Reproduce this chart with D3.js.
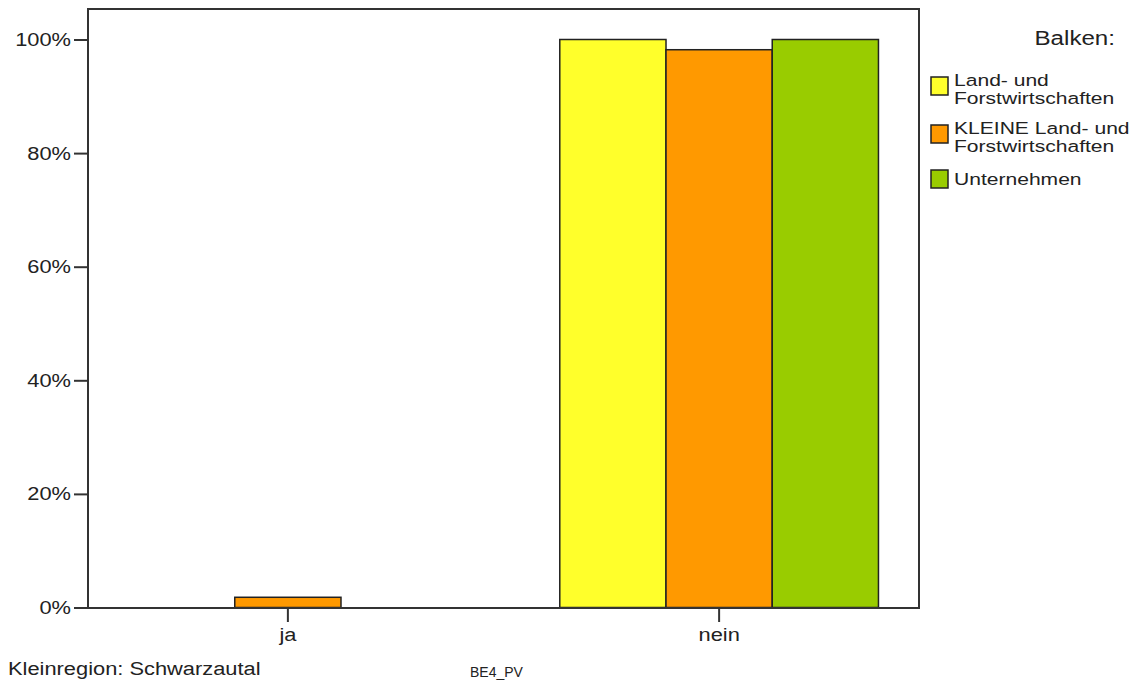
<!DOCTYPE html>
<html>
<head>
<meta charset="utf-8">
<script src="https://cdn.jsdelivr.net/npm/d3@7"></script>
<style>
  body { margin: 0; background: #fff; }
  svg text { font-family: "Liberation Sans", Arial, sans-serif; fill: #222; }
</style>
</head>
<body>
<div id="chart"></div>
<script>
var width = 1134;
var height = 686;

// data
var categories = ["ja", "nein"];
var seriesNames = ["Land- und Forstwirtschaften", "KLEINE Land- und Forstwirtschaften", "Unternehmen"];
var legendLines = [["Land- und", "Forstwirtschaften"], ["KLEINE Land- und", "Forstwirtschaften"], ["Unternehmen"]];
var seriesColors = ["#ffff2b", "#ff9900", "#99cc00"];
var landForst = [0, 100];
var kleineLandForst = [1.8, 98.2];
var unternehmen = [0, 100];
var yTicks = [0, 20, 40, 60, 80, 100];

var values = [landForst, kleineLandForst, unternehmen];

var plot = { left: 88, top: 9, right: 919, bottom: 608 };
var stretch = 1.15; // the reference font is wider than Liberation Sans

var svg = d3.select("#chart")
    .append("svg")
    .attr("width", width)
    .attr("height", height);

// writes a horizontally widened label at x,y
function label(txt, x, y, size, anchor) {
    return svg.append("text")
        .text(txt)
        .attr("transform", "translate(" + x + "," + y + ") scale(" + stretch + ",1)")
        .attr("text-anchor", anchor || "start")
        .style("font-size", size + "px");
}

var x0 = d3.scaleBand()
    .domain(categories)
    .range([plot.left, plot.right])
    .paddingInner(0.261)
    .paddingOuter(0.094);

var x1 = d3.scaleBand()
    .domain(seriesNames)
    .range([0, x0.bandwidth()]);

var y = d3.scaleLinear()
    .domain([0, 100])
    .range([plot.bottom - 0.5, 39.5]);

// bars
categories.forEach(function(cat, ci) {
    var g = svg.append("g")
        .attr("transform", "translate(" + x0(cat) + ",0)");
    g.selectAll("rect")
        .data(seriesNames.map(function(s, si) { return { name: s, value: values[si][ci], color: seriesColors[si] }; }))
        .enter()
        .append("rect")
        .attr("x", d => x1(d.name))
        .attr("y", d => y(d.value))
        .attr("width", x1.bandwidth())
        .attr("height", d => y(0) - y(d.value))
        .attr("fill", d => d.color)
        .attr("stroke", "#222")
        .attr("stroke-width", 1.5);
});

// frame
svg.append("rect")
    .attr("x", plot.left)
    .attr("y", plot.top)
    .attr("width", plot.right - plot.left)
    .attr("height", plot.bottom - plot.top)
    .attr("fill", "none")
    .attr("stroke", "#333")
    .attr("stroke-width", 2);

// y axis
var yAxis = d3.axisLeft(y)
    .tickValues(yTicks)
    .tickSize(14)
    .tickPadding(2)
    .tickFormat(d => d + "%");
var gy = svg.append("g")
    .attr("transform", "translate(" + plot.left + ",0)")
    .call(yAxis);
gy.select(".domain").remove();
gy.selectAll(".tick line").attr("stroke", "#333").attr("stroke-width", 2);
gy.selectAll(".tick text")
    .style("font-size", "19px")
    .attr("fill", "#222")
    .attr("font-family", null)
    .attr("x", -17 / stretch)
    .attr("transform", "scale(" + stretch + ",1)");

// x axis
var xAxis = d3.axisBottom(x0)
    .tickSize(14)
    .tickPadding(6);
var gx = svg.append("g")
    .attr("transform", "translate(0," + plot.bottom + ")")
    .call(xAxis);
gx.select(".domain").remove();
gx.selectAll(".tick line").attr("stroke", "#333").attr("stroke-width", 2);
gx.selectAll(".tick text")
    .style("font-size", "19px")
    .attr("fill", "#222")
    .attr("font-family", null)
    .attr("transform", "scale(" + stretch + ",1)");

// legend
label("Balken:", 1115, 45, 21, "end");

var legendTop = [77, 125, 170];
var lg = svg.selectAll(".legend")
    .data(seriesNames)
    .enter()
    .append("g")
    .attr("class", "legend")
    .attr("transform", (d, i) => "translate(931," + legendTop[i] + ")");
lg.append("rect")
    .attr("width", 17)
    .attr("height", 18)
    .attr("fill", (d, i) => seriesColors[i])
    .attr("stroke", "#222")
    .attr("stroke-width", 1.5);
// each entry's lines go in their own text elements so they can sit close
lg.each(function(d, i) {
    var g = d3.select(this);
    var lines = legendLines[i];
    lines.forEach(function(line, li) {
        g.append("text")
            .text(line)
            .attr("transform", "translate(23," + (lines.length > 1 ? 9 + li * 18 : 15) + ") scale(1.24,1)")
            .style("font-size", "17px");
    });
});

// footer
label("Kleinregion: Schwarzautal", 8, 675, 19);
label("BE4_PV", 470, 677, 14).attr("transform", "translate(470,677) scale(1,1.1)");
</script>
</body>
</html>
